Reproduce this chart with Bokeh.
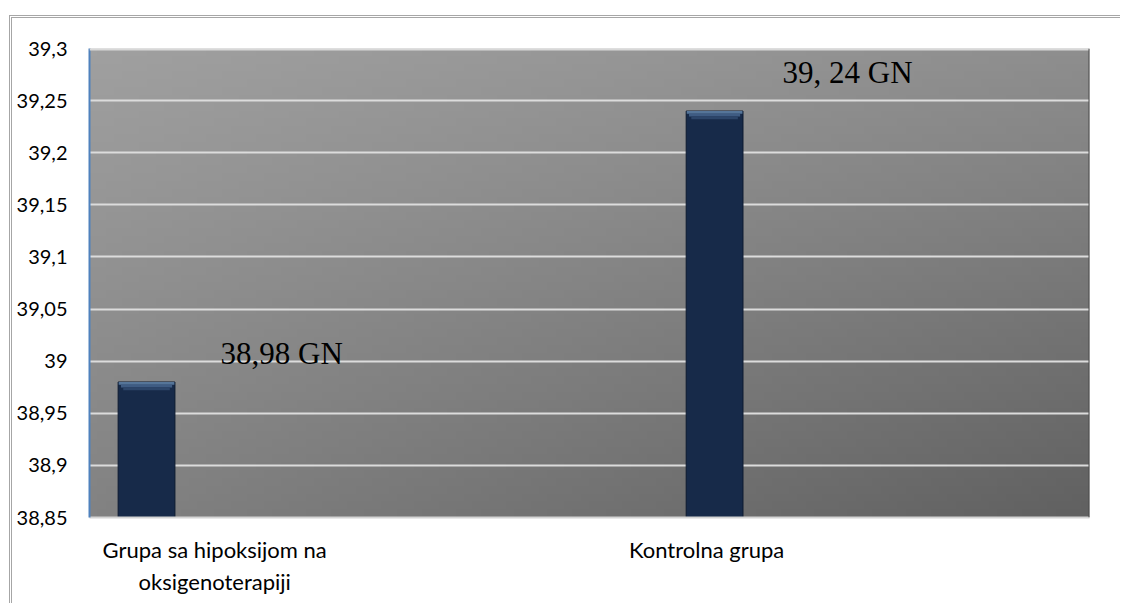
import numpy as np
from bokeh.plotting import figure
from bokeh.models import ColumnDataSource, FixedTicker, Span
from bokeh.core.properties import value
from bokeh.embed import file_html
from bokeh.resources import INLINE

# --- data -------------------------------------------------------------
groups = ["Grupa sa hipoksijom na\noksigenoterapiji", "Kontrolna grupa"]
values = [38.98, 39.24]
value_labels = ["38,98 GN", "39, 24 GN"]
y_ticks = [38.85, 38.9, 38.95, 39.0, 39.05, 39.1, 39.15, 39.2, 39.25, 39.3]
y_tick_labels = ["38,85", "38,9", "38,95", "39", "39,05", "39,1", "39,15",
                 "39,2", "39,25", "39,3"]

# --- layout constants ---------------------------------------------------
Y0, Y1 = 38.85, 39.3
X0, X1 = -0.1004, 1.660
BAR_W = 0.1
CAT_TICKS = [0.120, 0.986]          # where the category captions sit
LABEL_DX = [74, 68]                 # value label offsets (px)
LABEL_DY = [-29, -39]

idx = list(range(len(values)))
src = ColumnDataSource(dict(x=idx, top=values, label=value_labels,
                            dx=LABEL_DX, dy=LABEL_DY))

p = figure(width=1111, height=588, output_backend="svg", toolbar_location=None,
           x_range=(X0, X1), y_range=(Y0, Y1),
           min_border_left=77, min_border_right=34,
           min_border_top=30, min_border_bottom=89)
p.background_fill_color = None
p.border_fill_color = "white"
p.outline_line_color = None
# outer chart frame
p.margin = (15, 0, 0, 9)
p.styles = {"border-top": "3px double #a6a6a6", "border-left": "3px double #a6a6a6"}

# diagonal grey gradient behind the plot area
ny, nx = 60, 120
u = np.linspace(0, 1, nx)[None, :]
v = np.linspace(1, 0, ny)[:, None]          # row 0 is the bottom
g = 160 - 18 * u - 30 * v - 15 * u * v
g = np.clip(g, 0, 255).astype(np.uint32)
img = (255 << 24) | (g << 16) | (g << 8) | g
p.image_rgba(image=[img.astype(np.uint32)], x=X0, y=Y0, dw=X1 - X0, dh=Y1 - Y0,
             level="image")

# grid
p.xgrid.grid_line_color = None
p.ygrid.ticker = FixedTicker(ticks=y_ticks)
p.ygrid.grid_line_color = "#dcdcdc"
p.ygrid.grid_line_width = 2
p.ygrid.level = "underlay"
p.add_layout(Span(location=Y1, dimension="width", line_color="#d8d8d8", line_width=4))
p.add_layout(Span(location=X1, dimension="height", line_color="#4a4a4a", line_width=2))

# bars with a light bevel on top
p.vbar(x="x", top="top", bottom=Y0, width=BAR_W, source=src,
       fill_color="#172a49", line_color="#0d1a30", line_width=1)
bevel = 0.0026
shades = ["#557599", "#3f5c83", "#2c4569"]
for k, c in enumerate(shades):
    p.vbar(x=idx, top=[t - bevel * k for t in values],
           bottom=[t - bevel * (k + 1) for t in values],
           width=BAR_W * (0.98 - 0.08 * k), fill_color=c, line_color=None)

# value labels
p.text(x="x", y="top", text="label", source=src, x_offset="dx", y_offset="dy",
       text_font=value("Liberation Serif"), text_font_size="31px",
       text_color="black", text_baseline="alphabetic", text_align="left")

# y axis
p.yaxis.ticker = FixedTicker(ticks=y_ticks)
p.yaxis.major_label_overrides = {t: l for t, l in zip(y_ticks, y_tick_labels)}
p.yaxis.axis_line_color = "#4f81bd"
p.yaxis.axis_line_width = 2
p.yaxis.major_tick_line_color = None
p.yaxis.major_tick_out = 0
p.yaxis.major_tick_in = 0
p.yaxis.minor_tick_line_color = None
p.yaxis.major_label_standoff = 22
p.yaxis.major_label_text_font = "Lato"
p.yaxis.major_label_text_font_size = "20px"
p.yaxis.major_label_text_color = "black"

# x axis with category captions
p.xaxis.ticker = FixedTicker(ticks=CAT_TICKS)
p.xaxis.major_label_overrides = {t: l for t, l in zip(CAT_TICKS, groups)}
p.xaxis.axis_line_color = "#d4d4d4"
p.xaxis.axis_line_width = 2
p.xaxis.major_tick_line_color = None
p.xaxis.major_tick_out = 0
p.xaxis.major_tick_in = 0
p.xaxis.minor_tick_line_color = None
p.xaxis.major_label_standoff = 18
p.xaxis.major_label_text_font = "Lato"
p.xaxis.major_label_text_font_size = "22px"
p.xaxis.major_label_text_color = "black"

open("out.html", "w").write(file_html(p, INLINE))
